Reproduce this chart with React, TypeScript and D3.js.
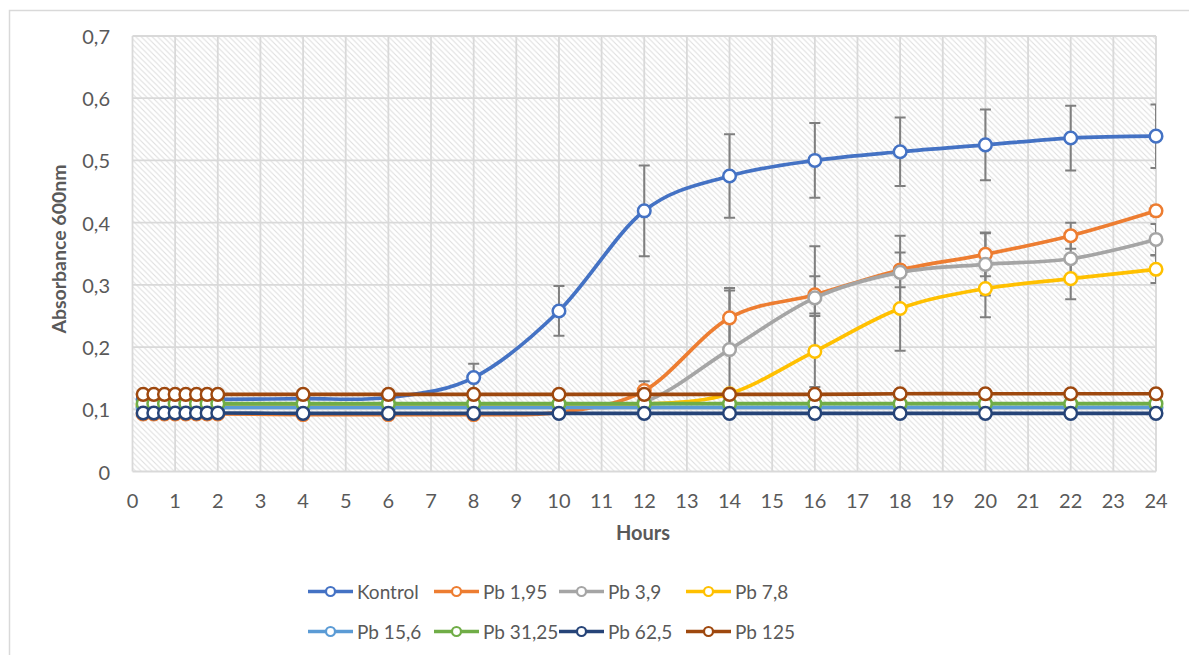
import React from "react";
import * as d3 from "d3";

// ---------- DATA ----------
const hours = [0.25, 0.5, 0.75, 1, 1.25, 1.5, 1.75, 2, 4, 6, 8, 10, 12, 14, 16, 18, 20, 22, 24];

const seriesNames = ["Kontrol", "Pb 1,95", "Pb 3,9", "Pb 7,8", "Pb 15,6", "Pb 31,25", "Pb 62,5", "Pb 125"];

const kontrol = [0.116, 0.116, 0.116, 0.116, 0.116, 0.116, 0.116, 0.116, 0.117, 0.119, 0.151, 0.258, 0.419, 0.475, 0.5, 0.514, 0.525, 0.536, 0.539];
const pb195 = [0.0925, 0.0925, 0.0925, 0.0925, 0.0925, 0.0925, 0.0925, 0.0925, 0.0915, 0.0915, 0.0915, 0.095, 0.13, 0.247, 0.284, 0.324, 0.349, 0.379, 0.419];
const pb39 = [0.104, 0.104, 0.104, 0.104, 0.104, 0.104, 0.104, 0.104, 0.104, 0.104, 0.104, 0.104, 0.112, 0.196, 0.279, 0.32, 0.333, 0.342, 0.373];
const pb78 = [0.106, 0.106, 0.106, 0.106, 0.106, 0.106, 0.106, 0.106, 0.106, 0.106, 0.106, 0.106, 0.108, 0.125, 0.193, 0.262, 0.294, 0.31, 0.325];
const pb156 = [0.103, 0.103, 0.103, 0.103, 0.103, 0.103, 0.103, 0.103, 0.103, 0.103, 0.103, 0.103, 0.103, 0.103, 0.103, 0.103, 0.103, 0.103, 0.103];
const pb3125 = [0.109, 0.109, 0.109, 0.109, 0.109, 0.109, 0.109, 0.109, 0.109, 0.109, 0.109, 0.109, 0.109, 0.109, 0.109, 0.109, 0.109, 0.109, 0.109];
const pb625 = [0.094, 0.094, 0.094, 0.094, 0.094, 0.094, 0.094, 0.094, 0.0935, 0.0935, 0.0935, 0.0935, 0.0935, 0.0935, 0.0935, 0.0935, 0.0935, 0.0935, 0.0935];
const pb125 = [0.124, 0.124, 0.124, 0.124, 0.124, 0.124, 0.124, 0.124, 0.124, 0.124, 0.124, 0.124, 0.124, 0.124, 0.124, 0.125, 0.125, 0.125, 0.125];

const kontrolErr = [0, 0, 0, 0, 0, 0, 0, 0, 0.002, 0.003, 0.022, 0.04, 0.073, 0.067, 0.06, 0.055, 0.057, 0.052, 0.051];
const pb195Err = [0, 0, 0, 0, 0, 0, 0, 0, 0, 0, 0, 0, 0.015, 0.048, 0.03, 0.028, 0.035, 0.021, 0.008];
const pb39Err = [0, 0, 0, 0, 0, 0, 0, 0, 0, 0, 0, 0, 0.005, 0.095, 0.083, 0.059, 0.05, 0.03, 0.025];
const pb78Err = [0, 0, 0, 0, 0, 0, 0, 0, 0, 0, 0, 0, 0, 0.005, 0.057, 0.068, 0.046, 0.033, 0.022];

const xTicks = [0, 1, 2, 3, 4, 5, 6, 7, 8, 9, 10, 11, 12, 13, 14, 15, 16, 17, 18, 19, 20, 21, 22, 23, 24];
const yTicks = [0, 0.1, 0.2, 0.3, 0.4, 0.5, 0.6, 0.7];

const seriesValues = [kontrol, pb195, pb39, pb78, pb156, pb3125, pb625, pb125];
const seriesErrors = [kontrolErr, pb195Err, pb39Err, pb78Err, null, null, null, null];
const colors = ["#4472C4", "#ED7D31", "#A5A5A5", "#FFC000", "#5B9BD5", "#70AD47", "#264478", "#9E480E"];

// ---------- LAYOUT ----------
const W = 1189;
const H = 655;
const plot = { left: 132.5, right: 1156, top: 36, bottom: 471.5 };
const FONT = "Lato, 'Open Sans', 'DejaVu Sans', sans-serif";
const TXT = "#595959";

export default function App() {
  const x = d3.scaleLinear().domain([0, 24]).range([plot.left, plot.right]);
  const y = d3.scaleLinear().domain([0, 0.7]).range([plot.bottom, plot.top]);

  const line = d3
    .line<[number, number]>()
    .x((d) => x(d[0]))
    .y((d) => y(d[1]))
    .curve(d3.curveCatmullRom.alpha(0));

  const legendCols = [308, 434, 559, 686];
  const legendRows = [591.5, 631.5];

  return (
    <svg
      width={W}
      height={H}
      style={{ position: "absolute", left: 0, top: 0, background: "#fff" }}
      fontFamily={FONT}
    >
      <defs>
        <pattern id="hatch" width="5.5" height="5.5" patternUnits="userSpaceOnUse">
          <rect width="5.5" height="5.5" fill="#ffffff" />
          <path d="M-1,-1 L6.5,6.5 M-1,4.5 L1,6.5 M4.5,-1 L6.5,1" stroke="#dedede" strokeWidth="1" />
        </pattern>
        <clipPath id="plotClip">
          <rect x={plot.left} y={plot.top - 10} width={plot.right - plot.left} height={plot.bottom - plot.top + 20} />
        </clipPath>
      </defs>

      {/* outer chart border */}
      <rect x={9.5} y={10.5} width={1200} height={700} fill="#fff" stroke="#d9d9d9" strokeWidth={1.5} />

      {/* plot area */}
      <rect
        x={plot.left}
        y={plot.top}
        width={plot.right - plot.left}
        height={plot.bottom - plot.top}
        fill="url(#hatch)"
      />

      {/* gridlines */}
      {xTicks.map((t) => (
        <line key={"vx" + t} x1={x(t)} x2={x(t)} y1={plot.top} y2={plot.bottom} stroke="#d9d9d9" strokeWidth={1.8} />
      ))}
      {yTicks.map((t) => (
        <line key={"hy" + t} x1={plot.left} x2={plot.right} y1={y(t)} y2={y(t)} stroke="#d9d9d9" strokeWidth={1.8} />
      ))}

      {/* y tick labels */}
      {yTicks.map((t) => (
        <text
          key={"yt" + t}
          x={110}
          y={y(t)}
          textAnchor="end"
          dominantBaseline="central"
          fontSize={20}
          fill={TXT}
        >
          {t === 0 ? "0" : t.toFixed(1).replace(".", ",")}
        </text>
      ))}

      {/* x tick labels */}
      {xTicks.map((t) => (
        <text key={"xt" + t} x={x(t)} y={500} textAnchor="middle" dominantBaseline="central" fontSize={20} fill={TXT}>
          {t}
        </text>
      ))}

      {/* axis titles */}
      <text x={643} y={532} textAnchor="middle" dominantBaseline="central" fontSize={20} fontWeight="bold" fill={TXT}>
        Hours
      </text>
      <text
        transform={`translate(58,249) rotate(-90)`}
        textAnchor="middle"
        dominantBaseline="central"
        fontSize={19.5}
        fontWeight="bold"
        fill={TXT}
      >
        Absorbance 600nm
      </text>

      <g clipPath="url(#plotClip)">
        {/* error bars */}
        {seriesValues.map((vals, si) => {
          const errs = seriesErrors[si];
          if (!errs) return null;
          return (
            <g key={"err" + si} stroke="#7f7f7f" strokeWidth={2}>
              {vals.map((v, i) => {
                const e = errs[i];
                if (!e) return null;
                const cx = x(hours[i]);
                const y1 = y(v + e);
                const y2 = y(v - e);
                return (
                  <g key={i}>
                    <line x1={cx} x2={cx} y1={y1} y2={y2} />
                    <line x1={cx - 5.5} x2={cx + 5.5} y1={y1} y2={y1} />
                    <line x1={cx - 5.5} x2={cx + 5.5} y1={y2} y2={y2} />
                  </g>
                );
              })}
            </g>
          );
        })}
      </g>

      {/* series lines + markers */}
      {seriesValues.map((vals, si) => {
        const pts: [number, number][] = vals.map((v, i) => [hours[i], v]);
        return (
          <g key={"s" + si}>
            <path d={line(pts) || ""} fill="none" stroke={colors[si]} strokeWidth={3.7} strokeLinejoin="round" />
            {pts.map((p, i) => (
              <circle key={i} cx={x(p[0])} cy={y(p[1])} r={6.3} fill="#fff" stroke={colors[si]} strokeWidth={2.5} />
            ))}
          </g>
        );
      })}

      {/* legend */}
      {seriesNames.map((name, i) => {
        const lx = legendCols[i % 4];
        const ly = legendRows[Math.floor(i / 4)];
        return (
          <g key={"lg" + i}>
            <line x1={lx} x2={lx + 45} y1={ly} y2={ly} stroke={colors[i]} strokeWidth={3.5} />
            <circle cx={lx + 22.5} cy={ly} r={4.5} fill="#fff" stroke={colors[i]} strokeWidth={2.2} />
            <text x={lx + 49} y={ly} dominantBaseline="central" fontSize={19} fill={TXT}>
              {name}
            </text>
          </g>
        );
      })}
    </svg>
  );
}
